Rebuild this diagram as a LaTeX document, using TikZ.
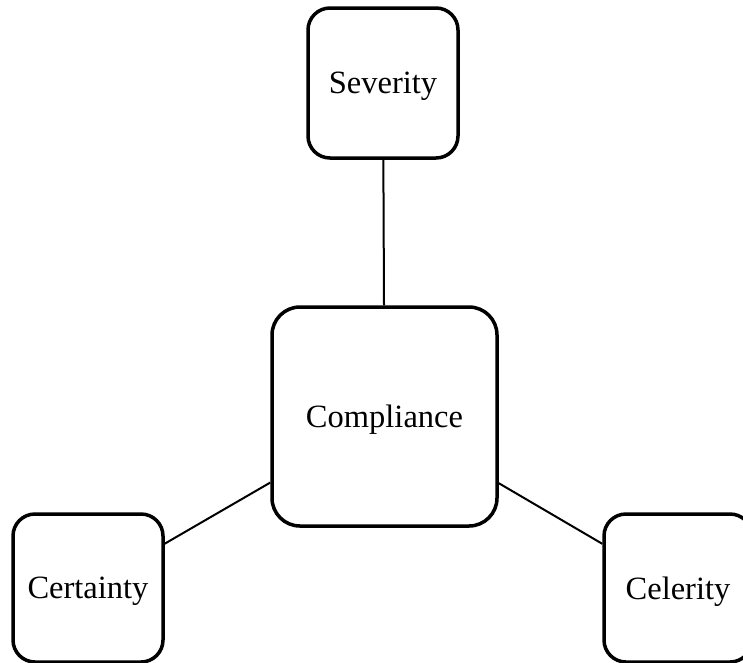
\documentclass[tikz,border=0pt]{standalone}
\usepackage{fontspec}
\setmainfont{Liberation Serif}
\begin{document}
\begin{tikzpicture}[x=1pt,y=-1pt,
  concept/.style={draw, line width=3.5pt, rounded corners=22pt, fill=white,
    inner sep=0pt, text depth=0pt, font=\fontsize{32.5}{38}\selectfont},
  link/.style={line width=2pt}]
\useasboundingbox (0,0) rectangle (743,662);
\clip (0,0) rectangle (743,662);
\node[concept, minimum width=150pt, minimum height=150pt] (sev) at (383,83) {Severity};
\node[concept, minimum width=225pt, minimum height=219pt, rounded corners=28pt] (comp) at (384.5,416.5) {Compliance};
\node[concept, minimum width=150pt, minimum height=148pt] (cert) at (88,588) {Certainty};
\node[concept, minimum width=148pt, minimum height=148pt] (cel) at (678,588) {Celerity};
\draw[link] (sev) -- (comp);
\draw[link] (cert) -- (comp);
\draw[link] (cel) -- (comp);
\end{tikzpicture}
\end{document}
